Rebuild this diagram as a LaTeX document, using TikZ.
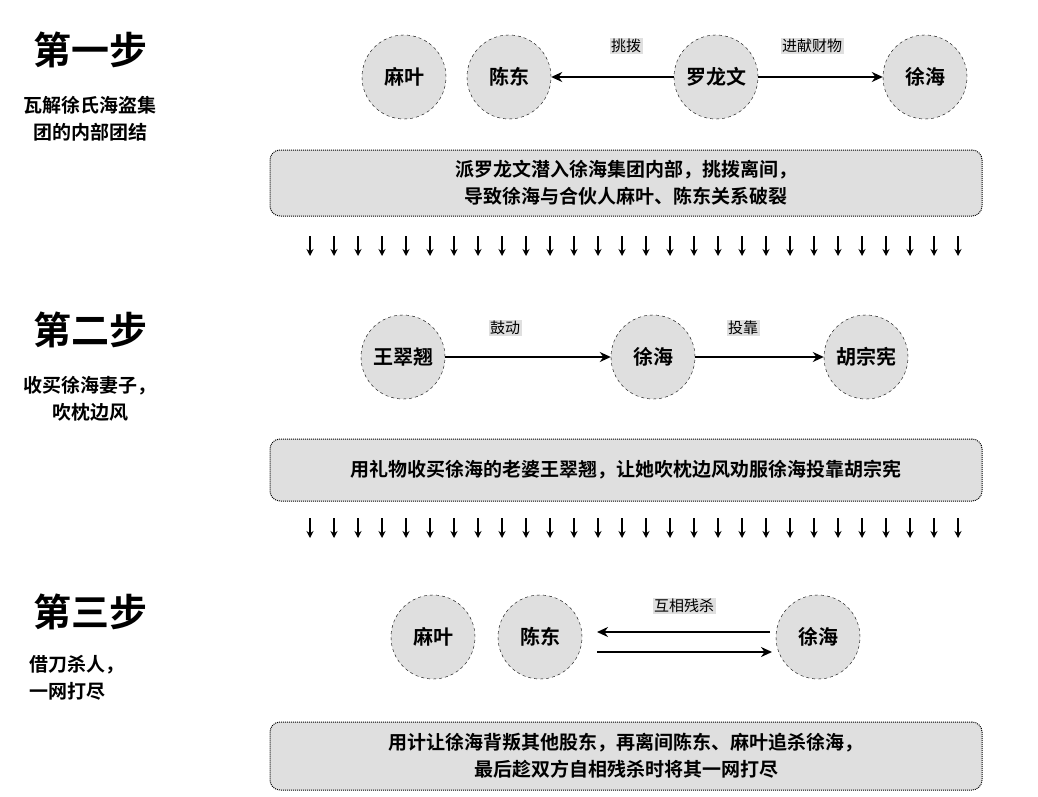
\documentclass[tikz,border=0pt]{standalone}
\usepackage{fontspec}
\newfontfamily\cjk{Noto Sans CJK SC}
\newfontfamily\cjkb{Noto Sans CJK SC Bold}
\usetikzlibrary{arrows.meta}
\begin{document}
\begin{tikzpicture}[x=1pt,y=-1pt,
  circ/.style={circle,draw,dashed,fill=gray!25,minimum size=84pt,inner sep=0pt,font=\cjkb\fontsize{20}{22}\selectfont},
  lbl/.style={fill=gray!25,inner sep=1.5pt,font=\cjk\fontsize{15}{17}\selectfont},
  box/.style={draw,densely dotted,line width=1pt,rounded corners=10pt,fill=gray!25,font=\cjkb\fontsize{19}{27}\selectfont,align=center,inner sep=0pt},
  arr/.style={line width=1.8pt,-{Stealth[length=11pt,width=10pt]}},
  dn/.style={line width=1.6pt,-{Stealth[length=7pt,width=7pt]}},
  ttl/.style={font=\cjkb\fontsize{38}{40}\selectfont},
  sub/.style={font=\cjkb\fontsize{19}{27}\selectfont,align=center}]
\useasboundingbox (0,0) rectangle (1038,797);
% step 1
\node[ttl] (t1) at (90,50) {第一步};
\node[sub] (s1) at (90,119) {瓦解徐氏海盗集\\团的内部团结};
\node[circ] (a1) at (404,77) {麻叶};
\node[circ] (b1) at (509,77) {陈东};
\node[circ] (c1) at (716,77) {罗龙文};
\node[circ] (d1) at (925,77) {徐海};
\draw[arr] (c1) -- (b1);
\draw[arr] (c1) -- (d1);
\node[lbl] (l11) at (626,46) {挑拨};
\node[lbl] (l12) at (812,46) {进献财物};
\node[box,minimum width=712pt,minimum height=66pt] (x1) at (626,183) {派罗龙文潜入徐海集团内部，挑拨离间，\\导致徐海与合伙人麻叶、陈东关系破裂};
\foreach \i in {0,...,27}{\coordinate (p\i) at (310+24*\i,236); \coordinate (q\i) at (310+24*\i,256); \draw[dn] (p\i) -- (q\i);}
% step 2
\node[ttl] (t2) at (90,330) {第二步};
\node[sub] (s2) at (90,399) {收买徐海妻子，\\吹枕边风};
\node[circ] (a2) at (403,357) {王翠翘};
\node[circ] (b2) at (653,357) {徐海};
\node[circ] (c2) at (866,357) {胡宗宪};
\draw[arr] (a2) -- (b2);
\draw[arr] (b2) -- (c2);
\node[lbl] (l21) at (505,328) {鼓动};
\node[lbl] (l22) at (743,328) {投靠};
\node[box,minimum width=712pt,minimum height=62pt] (x2) at (626,470) {用礼物收买徐海的老婆王翠翘，让她吹枕边风劝服徐海投靠胡宗宪};
\foreach \i in {0,...,27}{\coordinate (u\i) at (310+24*\i,518); \coordinate (v\i) at (310+24*\i,538); \draw[dn] (u\i) -- (v\i);}
% step 3
\node[ttl] (t3) at (90,612) {第三步};
\node[sub,align=left,anchor=west] (s3) at (26,678) {借刀杀人，\\一网打尽};
\node[circ] (a3) at (433,637) {麻叶};
\node[circ] (b3) at (540,637) {陈东};
\node[circ] (c3) at (818,637) {徐海};
\coordinate (e1) at (770,632); \coordinate (f1) at (597,632);
\coordinate (e2) at (597,652); \coordinate (f2) at (772,652);
\draw[arr] (e1) -- (f1);
\draw[arr] (e2) -- (f2);
\node[lbl] (l31) at (684,606) {互相残杀};
\node[box,minimum width=712pt,minimum height=68pt] (x3) at (626,756) {用计让徐海背叛其他股东，再离间陈东、麻叶追杀徐海，\\最后趁双方自相残杀时将其一网打尽};
\end{tikzpicture}
\end{document}
